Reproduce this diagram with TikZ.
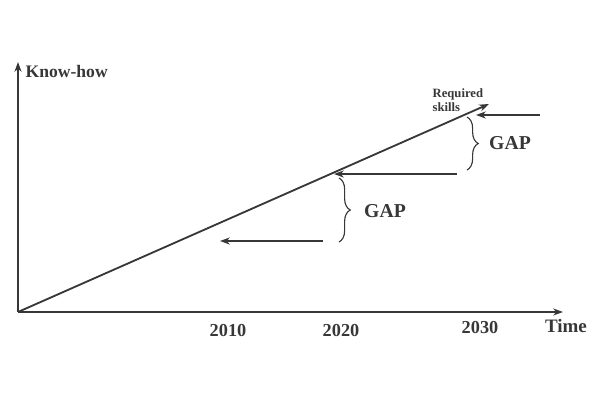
\documentclass[tikz,border=0pt]{standalone}
\usepackage{fontspec}
\setmainfont{Liberation Serif}
\usepackage{tikz}
\usetikzlibrary{arrows.meta,decorations.pathreplacing}
\newcommand*{\xMin}{18}
\newcommand*{\xMax}{563}
\newcommand*{\yMin}{312}
\newcommand*{\yMax}{62}
\definecolor{ink}{RGB}{55,55,55}
\tikzset{
  axis/.style={draw=ink,line width=1.3pt,-{Stealth[length=7pt,width=5pt]}},
  gaparrow/.style={draw=ink,line width=1.3pt,-{Stealth[length=7pt,width=5pt]}},
  gapbrace/.style={draw=ink,line width=0.8pt,decorate,decoration={brace,amplitude=8pt}},
  lbl/.style={text=ink,font=\bfseries,inner sep=1pt}
}
\begin{document}
\begin{tikzpicture}[x=0.025cm,y=-0.025cm]
	\useasboundingbox (0,0) rectangle (600,400);
	% axes
	\coordinate (o) at (\xMin,\yMin);
	\coordinate (ytop) at (\xMin,\yMax);
	\coordinate (xend) at (\xMax,\yMin);
	\draw [axis] (o) -- (ytop);
	\draw [axis] (o) -- (xend);
	\node [lbl,font=\bfseries\fontsize{12.5}{13}\selectfont,anchor=west] (knowhow) at (24,71) {Know-how};
	\node [lbl,font=\bfseries\fontsize{13.5}{14}\selectfont] (time) at (566,326) {Time};
	\node [lbl,font=\bfseries\fontsize{13}{14}\selectfont] (y2010) at (228,331) {2010};
	\node [lbl,font=\bfseries\fontsize{13}{14}\selectfont] (y2020) at (341,331) {2020};
	\node [lbl,font=\bfseries\fontsize{13}{14}\selectfont] (y2030) at (480,328) {2030};
	% required skills line
	\coordinate (req) at (489,104);
	\draw [axis] (o) -- (req);
	\node [lbl,font=\bfseries\fontsize{9}{10}\selectfont,align=left,anchor=north west] (skills) at (431,87) {Required\\skills};
	% gaps
	\coordinate (a1s) at (540,115);
	\coordinate (a1e) at (476,115);
	\coordinate (a2s) at (457,174);
	\coordinate (a2e) at (334,174);
	\coordinate (a3s) at (323,241);
	\coordinate (a3e) at (220,241);
	\draw [gaparrow] (a1s) -- (a1e);
	\draw [gaparrow] (a2s) -- (a2e);
	\draw [gaparrow] (a3s) -- (a3e);
	\draw [gapbrace] (467,117) -- (467,170);
	\draw [gapbrace] (339,178) -- (339,242);
	\node [lbl,font=\bfseries\fontsize{14}{15}\selectfont] (gap1) at (510,143) {GAP};
	\node [lbl,font=\bfseries\fontsize{14}{15}\selectfont] (gap2) at (385,211) {GAP};
\end{tikzpicture}
\end{document}
